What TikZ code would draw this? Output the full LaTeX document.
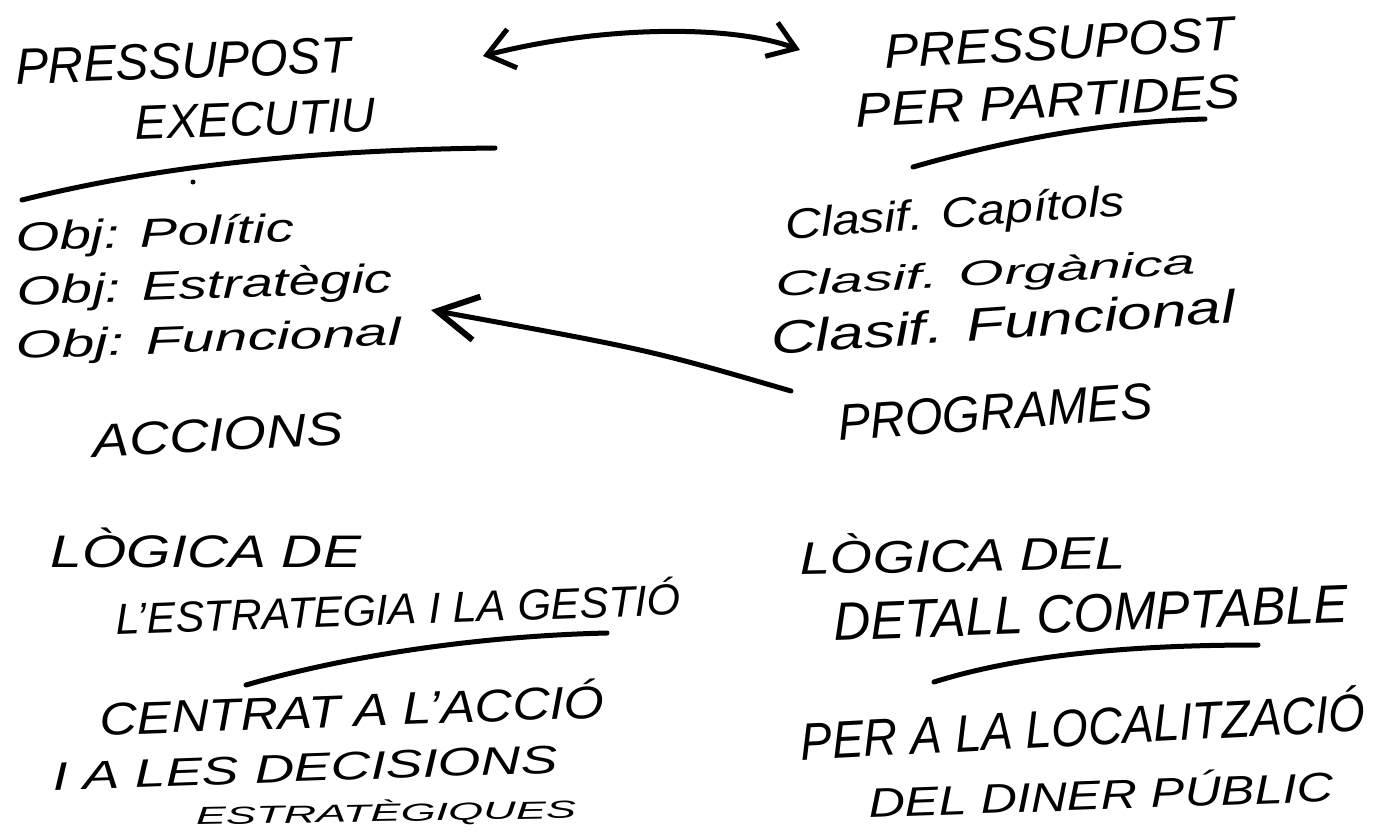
\documentclass[tikz,border=0pt]{standalone}
\usepackage{fontspec}
\setmainfont{Liberation Sans}
\usepackage{graphicx}
\usetikzlibrary{arrows.meta}
\newcommand{\hwt}[3]{\resizebox*{#1pt}{#2pt}{\itshape #3}}
\begin{document}
\begin{tikzpicture}[x=1pt,y=-1pt,
  hw/.style={inner sep=0pt, anchor=center, text=black},
  pen/.style={line width=5pt, line cap=round, line join=round, draw=black},
  barb/.style={line width=5pt, line cap=round, line join=round, draw=black,
     arrows={{Straight Barb[length=26pt,width=40pt,line width=5pt]}-{Straight Barb[length=26pt,width=36pt,line width=5pt]}}},
  onebarb/.style={line width=5pt, line cap=round, line join=round, draw=black,
     -{Straight Barb[length=40pt,width=44pt,line width=6pt]}}]
\useasboundingbox[fill=white] (0,0) rectangle (1374,836);

% --- top left title
\node[hw, rotate=2] (pexA) at (183,61)  {\hwt{335}{36}{PRESSUPOST}};
\node[hw, rotate=2] (pexB) at (255,119) {\hwt{240}{34}{EXECUTIU}};
\draw[pen] (22,200) .. controls (150,168) and (300,150) .. (495,148);
\fill (193,182) circle (2.5);

% --- top right title
\node[hw, rotate=3] (ppA) at (1059,43)  {\hwt{350}{34}{PRESSUPOST}};
\node[hw, rotate=3] (ppB) at (1048,101) {\hwt{385}{34}{PER PARTIDES}};
\draw[pen] (913,167) .. controls (1000,142) and (1100,122) .. (1205,119);

% --- double arrow
\coordinate (aL) at (483,56);
\coordinate (aR) at (800,50);
\draw[barb] (aL) .. controls (600,26) and (730,24) .. (aR);

% --- left list
\node[hw, rotate=2] (o1) at (155,236) {\hwt{278}{38}{Obj: Polític}};
\node[hw, rotate=2] (o2) at (205,288) {\hwt{375}{38}{Obj: Estratègic}};
\node[hw, rotate=2] (o3) at (209,342) {\hwt{385}{36}{Obj: Funcional}};
\node[hw, rotate=3] (acc) at (218,435) {\hwt{250}{33}{ACCIONS}};

% --- right list
\node[hw, rotate=4] (c1) at (955,216)  {\hwt{340}{40}{Clasif. Capítols}};
\node[hw, rotate=3] (c2) at (986,276)  {\hwt{420}{33}{Clasif. Orgànica}};
\node[hw, rotate=4] (c3) at (1003,322) {\hwt{465}{34}{Clasif. Funcional}};
\node[hw, rotate=4] (prog) at (995,412) {\hwt{315}{36}{PROGRAMES}};

% --- arrow PROGRAMES -> Obj: Estrategic
\coordinate (pS) at (791,391);
\coordinate (pT) at (431,310);
\draw[onebarb] (pS) .. controls (650,350) .. (pT);

% --- bottom left
\node[hw] (lg1) at (206,548) {\hwt{310}{40}{LÒGICA DE}};
\node[hw, rotate=2] (lg2) at (398,606) {\hwt{565}{38}{L'ESTRATEGIA I LA GESTIÓ}};
\draw[pen] (246,685) .. controls (350,655) and (480,636) .. (607,633);
\node[hw, rotate=2] (ce1) at (352,707) {\hwt{505}{40}{CENTRAT A L'ACCIÓ}};
\node[hw, rotate=2] (ce2) at (305,768) {\hwt{505}{28}{I A LES DECISIONS}};
\node[hw, rotate=1] (ce3) at (386,813) {\hwt{380}{26}{ESTRATÈGIQUES}};

% --- bottom right
\node[hw, rotate=1] (ld1) at (963,552)  {\hwt{325}{40}{LÒGICA DEL}};
\node[hw, rotate=2] (ld2) at (1091,613) {\hwt{515}{38}{DETALL COMPTABLE}};
\draw[pen] (934,682) .. controls (1020,655) and (1130,645) .. (1258,645);
\node[hw, rotate=3] (pl1) at (1083,723) {\hwt{565}{46}{PER A LA LOCALITZACIÓ}};
\node[hw, rotate=2] (pl2) at (1101,792) {\hwt{465}{36}{DEL DINER PÚBLIC}};
\end{tikzpicture}
\end{document}
